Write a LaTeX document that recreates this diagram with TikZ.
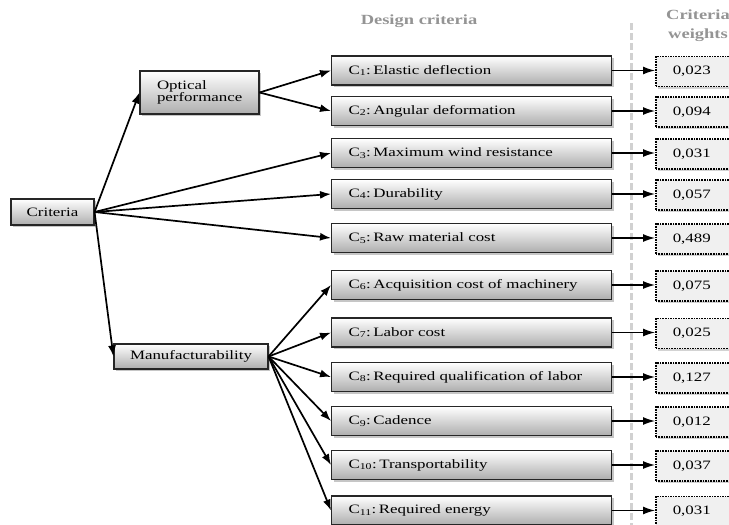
\documentclass[tikz,border=0pt]{standalone}
\usepackage{fontspec}
\setmainfont{Liberation Serif}[FakeStretch=1.32]
\usetikzlibrary{arrows.meta,shadows}
\tikzset{
  box/.style={draw=black!85,line width=1.1pt,top color=white,bottom color=black!32,
    drop shadow={opacity=0.45,shadow xshift=2pt,shadow yshift=-2pt}},
  critbox/.style={box,anchor=west,minimum height=29pt,text width=246pt,inner xsep=17pt,align=left},
  wbox/.style={draw=black,line width=1.5pt,dash pattern=on 1.6pt off 1pt,fill=black!6,anchor=west,
    minimum height=30pt,text width=50pt,inner xsep=17pt,align=left,
    drop shadow={opacity=0.35,shadow xshift=2pt,shadow yshift=-2pt}},
  head/.style={text=black!42,font=\fontsize{14}{19}\selectfont\bfseries,align=center},
  arr/.style={-{Latex[length=11pt,width=8pt]},line width=1.7pt},
  warr/.style={-{Latex[length=12pt,width=8pt]},line width=1.3pt}
}
\begin{document}
\begin{tikzpicture}[x=1pt,y=-1pt,every node/.style={font=\fontsize{12.8}{15}\selectfont}]
  \useasboundingbox (0,0) rectangle (729,525);
  %\draw[help lines,step=20] (0,0) grid (729,525);
  \draw[black!18,line width=3pt,dash pattern=on 7pt off 3pt] (631,23) -- (631,525);
  \node[head] (hdc) at (419,21) {Design criteria};
  \node[head] (hcw) at (698,26) {Criteria\\weights};
  % main nodes
  \node[box,minimum width=83pt,minimum height=26pt] (crit) at (52.5,212) {Criteria};
  \node[box,text width=85pt,inner xsep=17pt,minimum height=43pt,align=left] (opt) at (199.5,92.5) {Optical\\[-3pt]performance};
  \node[box,minimum width=154pt,minimum height=25pt] (manu) at (191,356.5) {Manufacturability};
  % design criteria and weights
  \foreach \i/\y/\t/\w in {1/70.5/Elastic deflection/{0,023},2/111/Angular deformation/{0,094},
      3/153/Maximum wind resistance/{0,031},4/194/Durability/{0,057},5/238/Raw material cost/{0,489},
      6/285/Acquisition cost of machinery/{0,075},7/332.5/Labor cost/{0,025},
      8/377/Required qualification of labor/{0,127},9/421/Cadence/{0,012},
      10/465/Transportability/{0,037},11/510.5/Required energy/{0,031}}{
    \node[critbox] (c\i) at (331,\y) {C\textsubscript{\i}:\hspace{2.5pt}\t};
    \node[wbox] (w\i) at (655,\y+1) {\w};
    \draw[warr] (c\i.east) -- (c\i.east -| w\i.west);
  }
  % connectors
  \draw[arr] (crit.east) -- (opt.west);
  \draw[arr] (crit.east) -- (manu.west);
  \foreach \i in {3,4,5} \draw[arr] (crit.east) -- (c\i.west);
  \foreach \i in {1,2} \draw[arr] (opt.east) -- (c\i.west);
  \foreach \i in {6,...,11} \draw[arr] (manu.east) -- (c\i.west);
\end{tikzpicture}
\end{document}
